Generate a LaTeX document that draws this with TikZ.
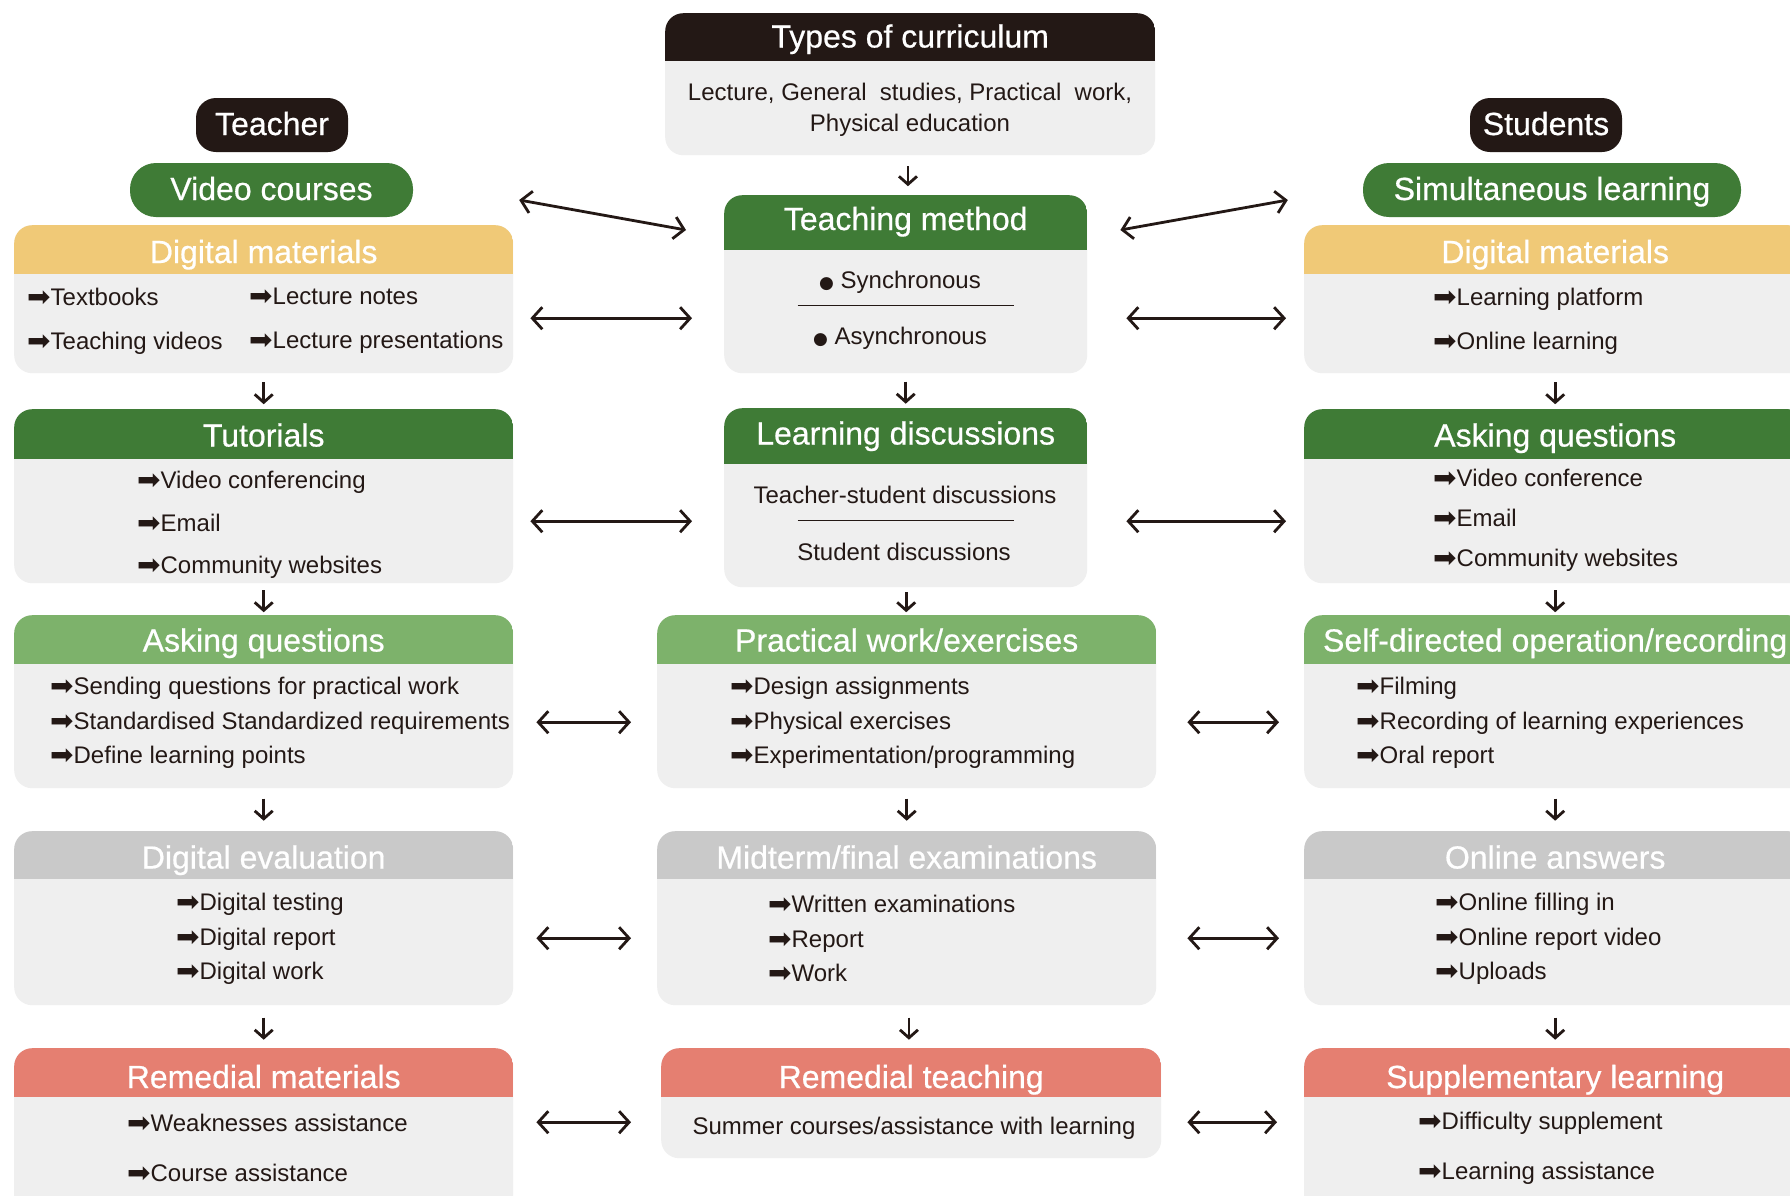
\documentclass[tikz,border=0pt]{standalone}
\usepackage{fontspec}
\setmainfont{Liberation Sans}
\newfontfamily\headfont[FakeBold=0.6]{Liberation Sans}
\newfontfamily\symfont{DejaVu Sans}
\usepackage{tikz}
\usetikzlibrary{arrows.meta, positioning, calc}

\definecolor{ink}{HTML}{231815}
\definecolor{leaf}{HTML}{3F7B36}
\definecolor{sprout}{HTML}{7DB26B}
\definecolor{honey}{HTML}{F0C977}
\definecolor{ash}{HTML}{C9C9C9}
\definecolor{salmon}{HTML}{E57F71}
\definecolor{paper}{HTML}{EFEFEF}

\newcommand{\itemarr}{{\symfont\fontsize{28}{28}\selectfont\raisebox{-1pt}{➡}}}
\newcommand{\dotmark}{{\symfont\fontsize{17}{17}\selectfont ●}}

\begin{document}
\begin{tikzpicture}[
    x=1pt, y=1pt,
    panel/.style={
        fill=paper,
        rounded corners=18pt,
        inner sep=0pt,
        anchor=north west
    },
    band/.style 2 args={
        path picture={\fill[#1, sharp corners] (path picture bounding box.north west) rectangle ([yshift=-#2]path picture bounding box.north east);}
    },
    title/.style={
        text=white,
        inner sep=0pt,
        text height=23pt,
        text depth=3pt,
        font=\headfont\fontsize{32}{38}\selectfont
    },
    pill/.style={
        fill=#1,
        text=white,
        inner ysep=0pt,
        minimum height=54pt,
        text height=23pt,
        text depth=3pt,
        font=\headfont\fontsize{32}{38}\selectfont
    },
    list/.style={
        text=ink,
        align=left,
        anchor=west,
        inner sep=0pt,
        font=\fontsize{24}{#1}\selectfont
    },
    plain/.style={
        text=ink,
        align=center,
        inner sep=0pt,
        font=\fontsize{24}{31}\selectfont
    },
    rule/.style={draw=ink, line width=1.2pt},
    down/.style={
        -{Straight Barb[length=8pt,width=18pt]},
        line width=2.8pt,
        draw=ink
    },
    twoway/.style={
        {Straight Barb[length=10pt,width=22pt]}-{Straight Barb[length=10pt,width=22pt]},
        line width=2.8pt,
        draw=ink
    }
]

\path[use as bounding box, clip] (0,0) rectangle (1790,-1195);
\fill[white] (0,0) rectangle (1790,-1195);

% Top row
\node (types) [panel, band={ink}{48}, minimum width=490, minimum height=142] at (665,-13) {};
\node (types-t) [title] at ([yshift=-24.5]types.north) {Types of curriculum};
\node (types-b) [plain] at (910,-110) {Lecture, General~ studies, Practical~ work,\\Physical education};

\node (teacher) [pill=ink, rounded corners=20pt, minimum width=152] at (272,-125) {Teacher};
\node (students) [pill=ink, rounded corners=20pt, minimum width=152] at (1546,-125) {Students};
\node (video) [pill=leaf, rounded corners=26pt, minimum width=283] at (271.5,-190) {Video courses};
\node (simul) [pill=leaf, rounded corners=26pt, minimum width=378] at (1552,-190) {Simultaneous learning};

% Teacher column
\node (dmL) [panel, band={honey}{49}, minimum width=499, minimum height=148] at (14,-225) {};
\node (dmL-t) [title] at ([yshift=-28]dmL.north) {Digital materials};
\node (dmL-a) [list=44] at (27,-321) {\itemarr Textbooks\\\itemarr Teaching videos};
\node (dmL-b) [list=44] at (249,-321) {\itemarr Lecture notes\\\itemarr Lecture presentations};

\node (tut) [panel, band={leaf}{50}, minimum width=499, minimum height=174] at (14,-409) {};
\node (tut-t) [title] at ([yshift=-27.5]tut.north) {Tutorials};
\node (tut-a) [list=42.5] at (137,-525) {\itemarr Video conferencing\\\itemarr Email\\\itemarr Community websites};

\node (askL) [panel, band={sprout}{49}, minimum width=499, minimum height=173] at (14,-615) {};
\node (askL-t) [title] at ([yshift=-26.5]askL.north) {Asking questions};
\node (askL-a) [list=34.5] at (50,-723) {\itemarr Sending questions for practical work\\\itemarr Standardised Standardized requirements\\\itemarr Define learning points};

\node (deval) [panel, band={ash}{48}, minimum width=499, minimum height=174] at (14,-831) {};
\node (deval-t) [title] at ([yshift=-27.5]deval.north) {Digital evaluation};
\node (deval-a) [list=34.5] at (176,-939) {\itemarr Digital testing\\\itemarr Digital report\\\itemarr Digital work};

\node (remM) [panel, band={salmon}{49}, minimum width=499, minimum height=170] at (14,-1048) {};
\node (remM-t) [title] at ([yshift=-30]remM.north) {Remedial materials};
\node (remM-a) [list=50] at (127,-1148) {\itemarr Weaknesses assistance\\\itemarr Course assistance};

% Middle column
\node (tmeth) [panel, band={leaf}{55}, minimum width=363, minimum height=178] at (724,-195) {};
\node (tmeth-t) [title] at ([yshift=-25]tmeth.north) {Teaching method};
\node (sync) [plain] at (900,-282) {\dotmark\ Synchronous};
\node (async) [plain] at (900,-338) {\dotmark\ Asynchronous};
\draw[rule] ([xshift=-108,yshift=-21]tmeth.center) -- ([xshift=108,yshift=-21]tmeth.center);

\node (ld) [panel, band={leaf}{56}, minimum width=363, minimum height=179] at (724,-408) {};
\node (ld-t) [title] at ([yshift=-26.5]ld.north) {Learning discussions};
\node (ld-a) [plain] at (905,-495) {Teacher-student discussions};
\node (ld-b) [plain] at (904,-552) {Student discussions};
\draw[rule] ([xshift=-108,yshift=-22.5]ld.center) -- ([xshift=108,yshift=-22.5]ld.center);

\node (prac) [panel, band={sprout}{49}, minimum width=499, minimum height=173] at (657,-615) {};
\node (prac-t) [title] at ([yshift=-26.5]prac.north) {Practical work/exercises};
\node (prac-a) [list=34.5] at (730,-723) {\itemarr Design assignments\\\itemarr Physical exercises\\\itemarr Experimentation/programming};

\node (mid) [panel, band={ash}{48}, minimum width=499, minimum height=174] at (657,-831) {};
\node (mid-t) [title] at ([yshift=-27.5]mid.north) {Midterm/final examinations};
\node (mid-a) [list=34.5] at (768,-939) {\itemarr Written examinations\\\itemarr Report\\\itemarr Work};

\node (remT) [panel, band={salmon}{49}, minimum width=500, minimum height=110] at (661,-1048) {};
\node (remT-t) [title] at ([yshift=-30]remT.north) {Remedial teaching};
\node (remT-a) [plain] at (914,-1128) {Summer courses/assistance with learning};

% Students column
\node (dmR) [panel, band={honey}{49}, minimum width=502, minimum height=148] at (1304,-225) {};
\node (dmR-t) [title] at ([yshift=-28]dmR.north) {Digital materials};
\node (dmR-a) [list=44] at (1433,-321) {\itemarr Learning platform\\\itemarr Online learning};

\node (askR) [panel, band={leaf}{50}, minimum width=502, minimum height=174] at (1304,-409) {};
\node (askR-t) [title] at ([yshift=-27.5]askR.north) {Asking questions};
\node (askR-a) [list=40] at (1433,-520) {\itemarr Video conference\\\itemarr Email\\\itemarr Community websites};

\node (self) [panel, band={sprout}{49}, minimum width=502, minimum height=173] at (1304,-615) {};
\node (self-t) [title] at ([yshift=-26.5]self.north) {Self-directed operation/recording};
\node (self-a) [list=34.5] at (1356,-723) {\itemarr Filming\\\itemarr Recording of learning experiences\\\itemarr Oral report};

\node (onl) [panel, band={ash}{48}, minimum width=502, minimum height=174] at (1304,-831) {};
\node (onl-t) [title] at ([yshift=-27.5]onl.north) {Online answers};
\node (onl-a) [list=34.5] at (1435,-939) {\itemarr Online filling in\\\itemarr Online report video\\\itemarr Uploads};

\node (supp) [panel, band={salmon}{49}, minimum width=502, minimum height=170] at (1304,-1048) {};
\node (supp-t) [title] at ([yshift=-30]supp.north) {Supplementary learning};
\node (supp-a) [list=50] at (1418,-1148) {\itemarr Difficulty supplement\\\itemarr Learning assistance};

% Down arrows
\draw[down] ($(types.south)!.5!(tmeth.north)+(0,9)$) -- ++(0,-20);
\draw[down] ($(tmeth.south)!.5!(ld.north)+(0,9)$) -- ++(0,-22);
\draw[down] ($(ld.south)!.5!(prac.north)+(0,9)$) -- ++(0,-20);
\draw[down] ($(prac.south)!.5!(mid.north)+(0,11)$) -- ++(0,-22);
\draw[down] ($(mid.south)!.5!(remT.north)+(0,9)$) -- ++(0,-22);
\draw[down] ($(dmL.south)!.5!(tut.north)+(0,9)$) -- ++(0,-22);
\draw[down] ($(tut.south)!.5!(askL.north)+(0,9)$) -- ++(0,-22);
\draw[down] ($(askL.south)!.5!(deval.north)+(0,11)$) -- ++(0,-22);
\draw[down] ($(deval.south)!.5!(remM.north)+(0,9)$) -- ++(0,-22);
\draw[down] ($(dmR.south)!.5!(askR.north)+(0,9)$) -- ++(0,-22);
\draw[down] ($(askR.south)!.5!(self.north)+(0,9)$) -- ++(0,-22);
\draw[down] ($(self.south)!.5!(onl.north)+(0,11)$) -- ++(0,-22);
\draw[down] ($(onl.south)!.5!(supp.north)+(0,9)$) -- ++(0,-22);

% Side links
\draw[twoway] ([xshift=106,yshift=-10]video.east) -- ([xshift=-38,yshift=-35]tmeth.north west);
\draw[twoway] ([xshift=33,yshift=-35]tmeth.north east) -- ([xshift=-75,yshift=-10]simul.west);
\draw[twoway] ([xshift=17,yshift=-19]dmL.east) -- ([xshift=-32,yshift=-34]tmeth.west);
\draw[twoway] ([xshift=39,yshift=-34]tmeth.east) -- ([xshift=-18,yshift=-19]dmR.west);
\draw[twoway] ([xshift=17,yshift=-25]tut.east) -- ([xshift=-32,yshift=-23.5]ld.west);
\draw[twoway] ([xshift=39,yshift=-23.5]ld.east) -- ([xshift=-18,yshift=-25]askR.west);
\draw[twoway] ([xshift=23,yshift=-20.5]askL.east) -- ([xshift=-26,yshift=-20.5]prac.west);
\draw[twoway] ([xshift=31,yshift=-20.5]prac.east) -- ([xshift=-25,yshift=-20.5]self.west);
\draw[twoway] ([xshift=23,yshift=-20]deval.east) -- ([xshift=-26,yshift=-20]mid.west);
\draw[twoway] ([xshift=31,yshift=-20]mid.east) -- ([xshift=-25,yshift=-20]onl.west);
\draw[twoway] ([xshift=23,yshift=11]remM.east) -- ([xshift=-30,yshift=-19]remT.west);
\draw[twoway] ([xshift=26,yshift=-19]remT.east) -- ([xshift=-27,yshift=11]supp.west);

\end{tikzpicture}
\end{document}
